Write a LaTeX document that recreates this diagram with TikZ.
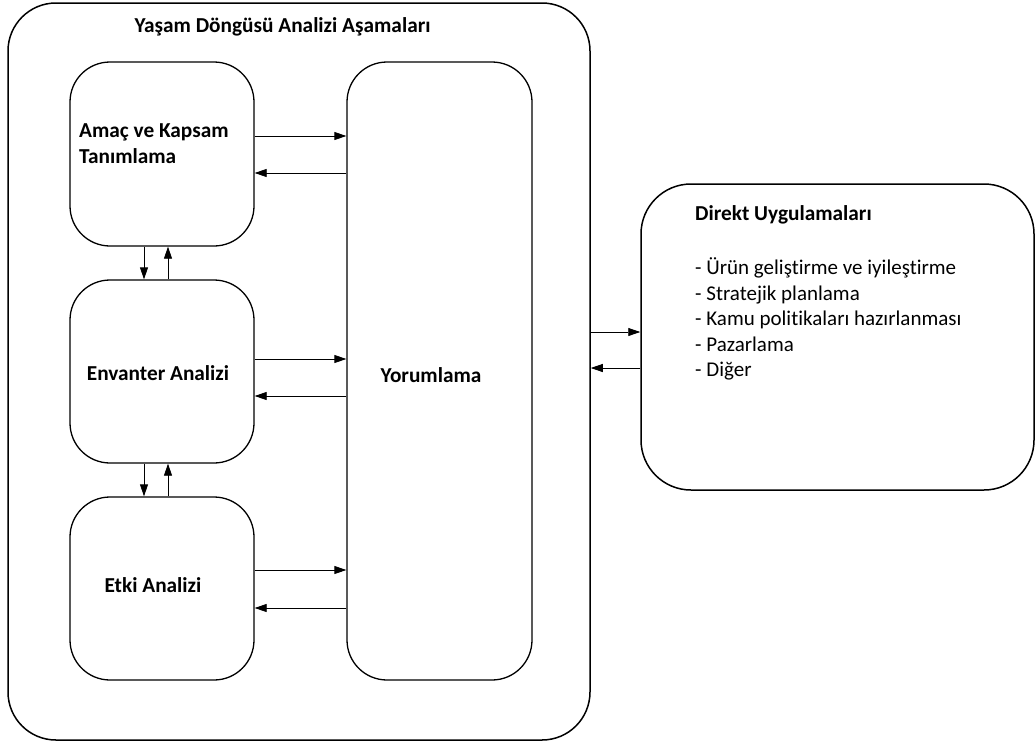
\documentclass[tikz,border=0pt]{standalone}
\usepackage{fontspec}
\setmainfont{Carlito}[RawFeature={-liga;-clig;-calt;-dlig}]
\usetikzlibrary{arrows.meta,positioning}

\tikzset{
  phasebox/.style={draw, line width=1.3pt, rounded corners=40pt, inner sep=0pt},
  outerbox/.style={draw, line width=1.5pt, rounded corners=48pt, inner sep=0pt},
  boldtext/.style={font=\fontsize{21.3}{26.5}\selectfont\bfseries, inner sep=0pt, align=left},
  plaintext/.style={font=\fontsize{21}{25.6}\selectfont, inner sep=0pt, align=left},
  flow/.style={-{Triangle[length=12pt,width=8pt]}, line width=0.8pt}
}

\begin{document}
\begin{tikzpicture}[x=1pt,y=-1pt,line join=round]
        \useasboundingbox (0,0) rectangle (1035,744);
        % stages of the life cycle assessment
        \node[outerbox, minimum width=582, minimum height=737] (outer) at (299,371.5) {};
        \node[phasebox, minimum width=184, minimum height=184] (amac) at (162,154) {};
        \node[phasebox, minimum width=184, minimum height=183] (envanter) at (162,371.5) {};
        \node[phasebox, minimum width=184, minimum height=183] (etki) at (162,588.5) {};
        \node[phasebox, minimum width=185, minimum height=618] (yorum) at (439.5,371) {};
        \node[outerbox, rounded corners=50pt, minimum width=393, minimum height=306] (direkt) at (837.5,337) {};
        % texts
        \node[boldtext] (baslik) at (282.5,27) {Yaşam Döngüsü Analizi Aşamaları};
        \node[boldtext, anchor=west] (amactext) at (79,143.5) {Amaç ve Kapsam\\Tanımlama};
        \node[boldtext] (envantertext) at (158,373) {Envanter Analizi};
        \node[boldtext] (etkitext) at (153,585) {Etki Analizi};
        \node[boldtext] (yorumtext) at (431,375) {Yorumlama};
        \node[boldtext, anchor=west] (direkttext) at (695,215) {Direkt Uygulamaları};
        \node[plaintext, anchor=west] (liste) at (695,319) {- Ürün geliştirme ve iyileştirme\\- Stratejik planlama\\- Kamu politikaları hazırlanması\\- Pazarlama\\- Diğer};
        % arrows to and from Yorumlama
        \draw[flow] (amac.east |- 0,136) -- (yorum.west |- 0,136);
        \draw[flow] (yorum.west |- 0,173) -- (amac.east |- 0,173);
        \draw[flow] (envanter.east |- 0,359) -- (yorum.west |- 0,359);
        \draw[flow] (yorum.west |- 0,396) -- (envanter.east |- 0,396);
        \draw[flow] (etki.east |- 0,570) -- (yorum.west |- 0,570);
        \draw[flow] (yorum.west |- 0,608) -- (etki.east |- 0,608);
        % arrows between the stages
        \draw[flow] (amac.south -| 144,0) -- (envanter.north -| 144,0);
        \draw[flow] (envanter.north -| 168,0) -- (amac.south -| 168,0);
        \draw[flow] (envanter.south -| 144,0) -- (etki.north -| 144,0);
        \draw[flow] (etki.north -| 168,0) -- (envanter.south -| 168,0);
        % arrows to and from the applications
        \draw[flow] (outer.east |- 0,332) -- (direkt.west |- 0,332);
        \draw[flow] (direkt.west |- 0,368) -- (outer.east |- 0,368);
\end{tikzpicture}
\end{document}
